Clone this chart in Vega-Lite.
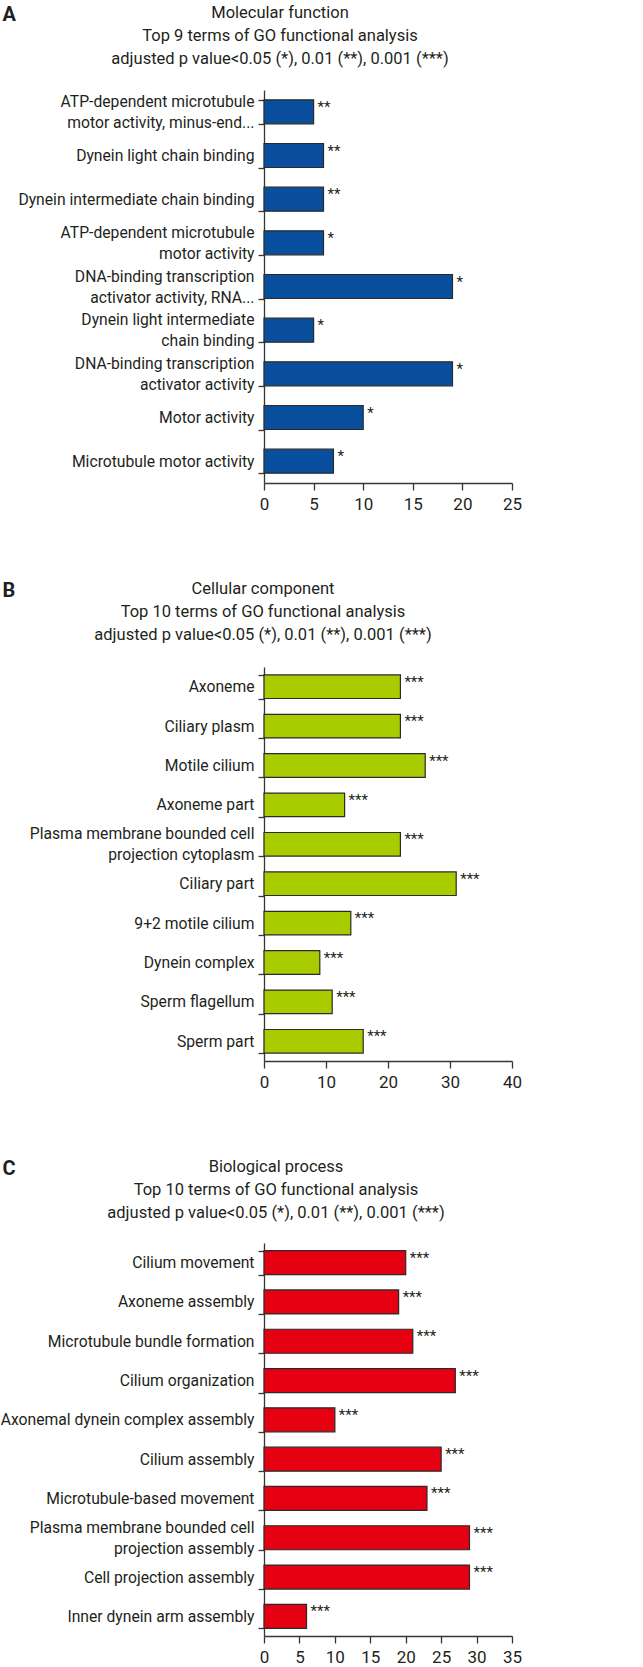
{
  "$schema": "https://vega.github.io/schema/vega-lite/v6.json",
  "padding": {"left": 0, "top": 4, "right": 5, "bottom": 0},
  "spacing": 68,
  "background": "white",
  "config": {
    "view": {"stroke": null},
    "font": "Roboto",
    "axis": {
      "labelFont": "Roboto",
      "labelColor": "#231f20",
      "domainColor": "#3a3434",
      "tickColor": "#3a3434",
      "domainWidth": 1.3,
      "tickWidth": 1.3,
      "grid": false
    },
    "title": {
      "font": "Roboto",
      "fontSize": 16.5,
      "fontWeight": "normal",
      "color": "#231f20",
      "lineHeight": 23
    }
  },
  "datasets": {
    "mf": [
      {"term": "ATP-dependent microtubule\nmotor activity, minus-end...", "count": 5, "sig": "**"},
      {"term": "Dynein light chain binding", "count": 6, "sig": "**"},
      {"term": "Dynein intermediate chain binding", "count": 6, "sig": "**"},
      {"term": "ATP-dependent microtubule\nmotor activity", "count": 6, "sig": "*"},
      {"term": "DNA-binding transcription\nactivator activity, RNA...", "count": 19, "sig": "*"},
      {"term": "Dynein light intermediate\nchain binding", "count": 5, "sig": "*"},
      {"term": "DNA-binding transcription\nactivator activity", "count": 19, "sig": "*"},
      {"term": "Motor activity", "count": 10, "sig": "*"},
      {"term": "Microtubule motor activity", "count": 7, "sig": "*"}
    ],
    "cc": [
      {"term": "Axoneme", "count": 22, "sig": "***"},
      {"term": "Ciliary plasm", "count": 22, "sig": "***"},
      {"term": "Motile cilium", "count": 26, "sig": "***"},
      {"term": "Axoneme part", "count": 13, "sig": "***"},
      {"term": "Plasma membrane bounded cell\nprojection cytoplasm", "count": 22, "sig": "***"},
      {"term": "Ciliary part", "count": 31, "sig": "***"},
      {"term": "9+2 motile cilium", "count": 14, "sig": "***"},
      {"term": "Dynein complex", "count": 9, "sig": "***"},
      {"term": "Sperm flagellum", "count": 11, "sig": "***"},
      {"term": "Sperm part", "count": 16, "sig": "***"}
    ],
    "bp": [
      {"term": "Cilium movement", "count": 20, "sig": "***"},
      {"term": "Axoneme assembly", "count": 19, "sig": "***"},
      {"term": "Microtubule bundle formation", "count": 21, "sig": "***"},
      {"term": "Cilium organization", "count": 27, "sig": "***"},
      {"term": "Axonemal dynein complex assembly", "count": 10, "sig": "***"},
      {"term": "Cilium assembly", "count": 25, "sig": "***"},
      {"term": "Microtubule-based movement", "count": 23, "sig": "***"},
      {"term": "Plasma membrane bounded cell\nprojection assembly", "count": 29, "sig": "***"},
      {"term": "Cell projection assembly", "count": 29, "sig": "***"},
      {"term": "Inner dynein arm assembly", "count": 6, "sig": "***"}
    ]
  },
  "vconcat": [
    {
      "width": 248,
      "height": 393,
      "data": {"name": "mf"},
      "title": {
        "text": ["Molecular function", "Top 9 terms of GO functional analysis", "adjusted p value<0.05 (*), 0.01 (**), 0.001 (***)"],
        "anchor": "middle",
        "frame": "group",
        "dx": -108,
        "offset": -63
      },
      "encoding": {
        "y": {
          "field": "term", "type": "nominal", "sort": null,
          "scale": {"paddingInner": 0.45, "paddingOuter": 0.225},
          "axis": {
            "title": "A", "titleAngle": 0, "titleAlign": "left", "titleBaseline": "alphabetic",
            "titleX": -262, "titleY": -70, "titleFontSize": 20, "titleFontWeight": "bold", "titleColor": "#231f20", "titleFont": "Roboto",
            "labelExpr": "split(datum.label, '\\n')",
            "labelOffset": {"condition": {"test": "indexof(datum.label, '\\n') >= 0", "value": -10.5}, "value": 0},
            "labelFontSize": 15.7, "labelLineHeight": 21, "labelPadding": 4, "tickSize": 6,
            "tickBand": "extent", "labelLimit": 400
          }
        },
        "x": {
          "field": "count", "type": "quantitative",
          "scale": {"domain": [0, 25], "nice": false},
          "axis": {"title": null, "values": [0, 5, 10, 15, 20, 25], "labelFontSize": 17, "tickSize": 7, "labelPadding": 6, "labelFlush": false}
        }
      },
      "layer": [
        {"mark": {"type": "bar", "color": "#0a4f9e", "stroke": "#2a2a2a", "strokeWidth": 1.2}},
        {"mark": {"type": "text", "align": "left", "baseline": "middle", "dx": 4, "dy": -5, "fontSize": 15, "color": "#231f20", "font": "Roboto"}, "encoding": {"text": {"field": "sig"}}}
      ]
    },
    {
      "width": 248,
      "height": 394,
      "data": {"name": "cc"},
      "title": {
        "text": ["Cellular component", "Top 10 terms of GO functional analysis", "adjusted p value<0.05 (*), 0.01 (**), 0.001 (***)"],
        "anchor": "middle",
        "frame": "group",
        "dx": -125,
        "offset": -63
      },
      "encoding": {
        "y": {
          "field": "term", "type": "nominal", "sort": null,
          "scale": {"paddingInner": 0.4, "paddingOuter": 0.2},
          "axis": {
            "title": "B", "titleAngle": 0, "titleAlign": "left", "titleBaseline": "alphabetic",
            "titleX": -262, "titleY": -71, "titleFontSize": 20, "titleFontWeight": "bold", "titleColor": "#231f20", "titleFont": "Roboto",
            "labelExpr": "split(datum.label, '\\n')",
            "labelOffset": {"condition": {"test": "indexof(datum.label, '\\n') >= 0", "value": -10.5}, "value": 0},
            "labelFontSize": 15.7, "labelLineHeight": 21, "labelPadding": 4, "tickSize": 6,
            "tickBand": "extent", "labelLimit": 400
          }
        },
        "x": {
          "field": "count", "type": "quantitative",
          "scale": {"domain": [0, 40], "nice": false},
          "axis": {"title": null, "values": [0, 10, 20, 30, 40], "labelFontSize": 17, "tickSize": 7, "labelPadding": 6, "labelFlush": false}
        }
      },
      "layer": [
        {"mark": {"type": "bar", "color": "#a8cc00", "stroke": "#2a2a2a", "strokeWidth": 1.2}},
        {"mark": {"type": "text", "align": "left", "baseline": "middle", "dx": 4, "dy": -5, "fontSize": 15, "color": "#231f20", "font": "Roboto"}, "encoding": {"text": {"field": "sig"}}}
      ]
    },
    {
      "width": 248,
      "height": 393,
      "data": {"name": "bp"},
      "title": {
        "text": ["Biological process", "Top 10 terms of GO functional analysis", "adjusted p value<0.05 (*), 0.01 (**), 0.001 (***)"],
        "anchor": "middle",
        "frame": "group",
        "dx": -112,
        "offset": -63
      },
      "encoding": {
        "y": {
          "field": "term", "type": "nominal", "sort": null,
          "scale": {"paddingInner": 0.39, "paddingOuter": 0.195},
          "axis": {
            "title": "C", "titleAngle": 0, "titleAlign": "left", "titleBaseline": "alphabetic",
            "titleX": -262, "titleY": -69, "titleFontSize": 20, "titleFontWeight": "bold", "titleColor": "#231f20", "titleFont": "Roboto",
            "labelExpr": "split(datum.label, '\\n')",
            "labelOffset": {"condition": {"test": "indexof(datum.label, '\\n') >= 0", "value": -10.5}, "value": 0},
            "labelFontSize": 15.7, "labelLineHeight": 21, "labelPadding": 4, "tickSize": 6,
            "tickBand": "extent", "labelLimit": 400
          }
        },
        "x": {
          "field": "count", "type": "quantitative",
          "scale": {"domain": [0, 35], "nice": false},
          "axis": {"title": null, "values": [0, 5, 10, 15, 20, 25, 30, 35], "labelFontSize": 17, "tickSize": 7, "labelPadding": 6, "labelFlush": false}
        }
      },
      "layer": [
        {"mark": {"type": "bar", "color": "#e50012", "stroke": "#2a2a2a", "strokeWidth": 1.2}},
        {"mark": {"type": "text", "align": "left", "baseline": "middle", "dx": 4, "dy": -5, "fontSize": 15, "color": "#231f20", "font": "Roboto"}, "encoding": {"text": {"field": "sig"}}}
      ]
    }
  ]
}
